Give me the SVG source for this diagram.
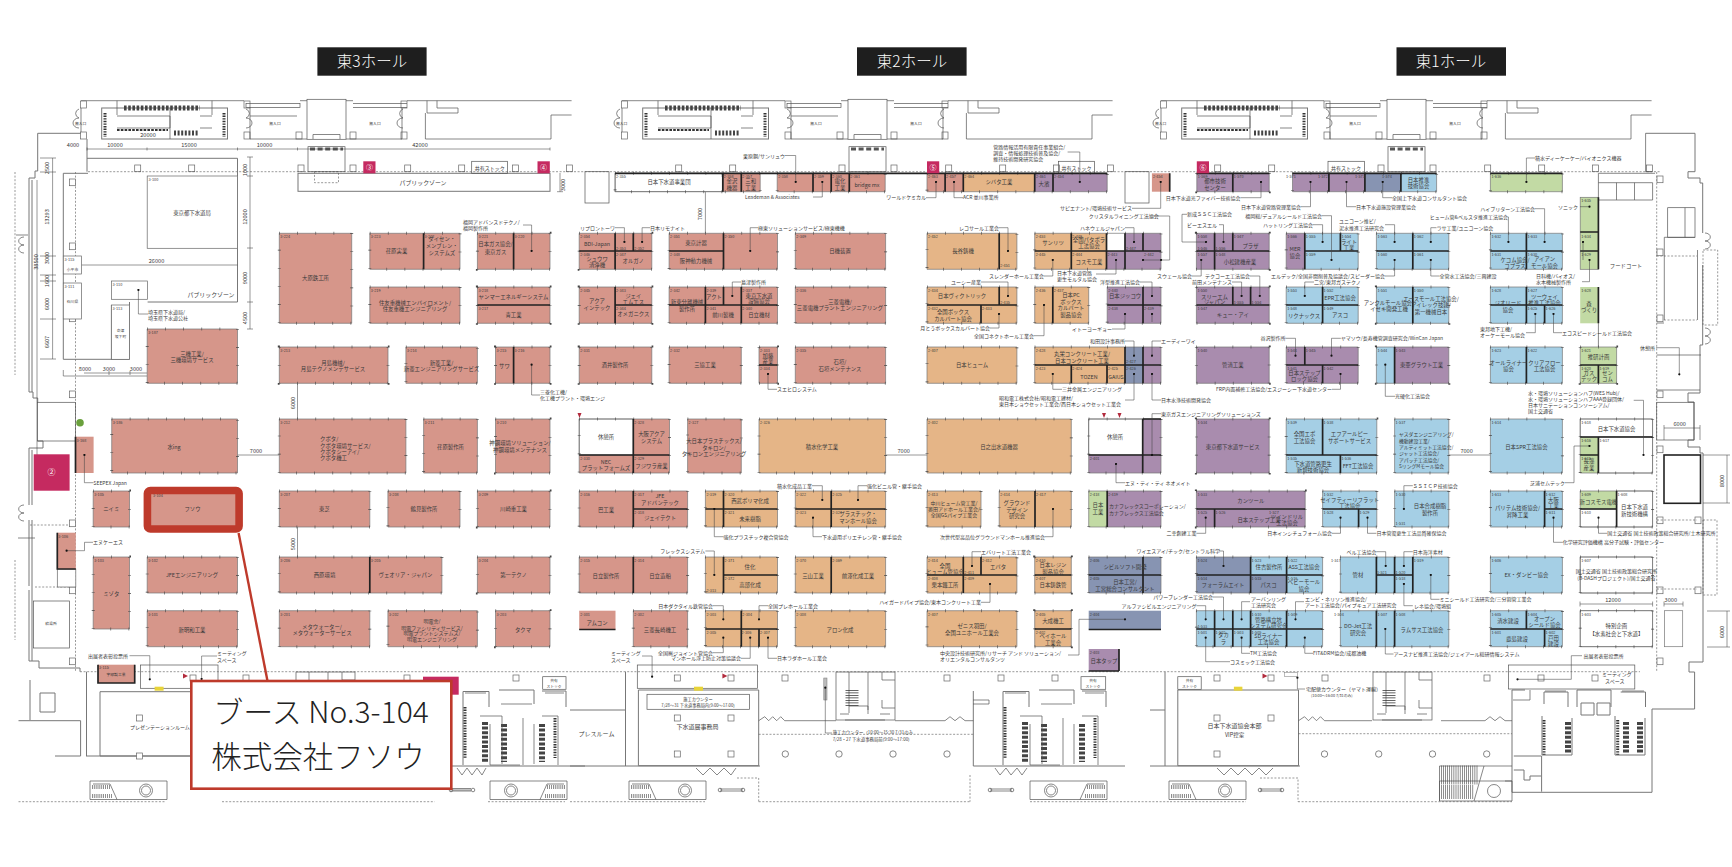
<svg xmlns="http://www.w3.org/2000/svg" width="1732" height="867" viewBox="0 0 1732 867">
<style>
text{font-family:"Noto Sans CJK JP","Liberation Sans",sans-serif;fill:#3a3a3a}
.r{fill:#D6968A}.o{fill:#E5B587}.p{fill:#A98CAE}.b{fill:#A5CFE5}.s{fill:#8794B2}.g{fill:#C2DAA4}.w{fill:#fff}
.l{font-size:5.4px;text-anchor:middle}
.n{font-size:3.8px}
.c{font-size:5px}
.e{text-anchor:end}
.m{text-anchor:middle}
.d{font-size:5.6px;text-anchor:middle;fill:#444}
.st{fill:none;stroke:#555;stroke-width:.7}
.wl{fill:none;stroke:#777;stroke-width:1}
.dh{fill:none;stroke:#555;stroke-width:.6;stroke-dasharray:2 1.6}
.th{fill:none;stroke:#222;stroke-width:1.7}
.bd{fill:none;stroke:#777;stroke-width:.7}
.tk{fill:none;stroke:#444;stroke-width:3;stroke-dasharray:.6 17.5}
.ld{fill:none;stroke:#444;stroke-width:.55;marker-start:url(#dot)}
.ln{fill:none;stroke:#444;stroke-width:.55}
.pl{fill:#fff;stroke:#666;stroke-width:.7}
.mg{fill:#C52A60}
.ttl{fill:#1E1E1E}
.tt{font-size:15.5px;fill:#fff;text-anchor:middle;font-weight:300}
</style>
<defs>
<marker id="dot" markerUnits="userSpaceOnUse" markerWidth="3" markerHeight="3" refX="1.5" refY="1.5"><circle cx="1.5" cy="1.5" r="1.1" fill="#111"/></marker>
<g id="tm">
<path class="st" d="M81 100.7H244M300 100.7H307M346 100.7H353M407 100.7H571.6M81 108V133"/>
<rect class="pl" x="80.5" y="101" width="6" height="7"/><rect class="pl" x="80.5" y="132" width="6" height="7"/>
<rect class="pl" x="244" y="101" width="6" height="7"/><rect class="pl" x="244" y="132" width="6" height="7"/><rect class="pl" x="296" y="132" width="6" height="7"/><rect class="pl" x="350" y="132" width="6" height="7"/><rect class="pl" x="401" y="101" width="6" height="7"/><rect class="pl" x="401" y="132" width="6" height="7"/>
<path class="st" d="M79 109a6 5 0 0 0 0 9a6 5 0 0 0 0 10M246 109a6 5 0 0 1 0 9a6 5 0 0 1 0 10M403 109a6 5 0 0 0 0 9a6 5 0 0 0 0 10"/>
<rect class="wl" x="101.7" y="108" width="125.8" height="31"/>
<path class="st" d="M117 100.7V115M212 100.7V115M117 116H170V128M117 128H170M170 108V139M212 116H200M212 128H200"/>
<path d="M105 113V137M224 113V137" fill="none" stroke="#333" stroke-width="3" stroke-dasharray="1.4 1.2"/>
<path d="M124 108H200" fill="none" stroke="#444" stroke-width="5" stroke-dasharray="2.6 1.6"/>
<path d="M117 130H168" fill="none" stroke="#333" stroke-width="2" stroke-dasharray="2.6 1.2"/>
<path d="M174 133H198" fill="none" stroke="#444" stroke-width="5" stroke-dasharray="2 1.6"/>
<rect class="st" x="246" y="103.5" width="54" height="4"/>
<path class="st" d="M250 107.5V139H307M250 116H297"/>
<rect class="st" x="307" y="99.3" width="39" height="40"/>
<path class="st" d="M313 139V134.500H340V139M346 139H402V108M353 107.500H407M353 103.500H407"/>
<path class="st" d="M425.400 113V139H551V115H571.600M427 100.700V113H458V108M437 100.700V108H458"/>
<rect class="st" x="308" y="146.700" width="37" height="25"/>
<path d="M310 149H343" fill="none" stroke="#555" stroke-width="3" stroke-dasharray="5 2.600"/>
<text class="n m" x="275" y="125">搬入口</text><text class="n m" x="375" y="125">搬入口</text>
<text class="n" x="75" y="125">搬入口</text>
<rect class="pl" x="134.700" y="165" width="6" height="6.700"/><rect class="pl" x="188.700" y="165" width="6" height="6.700"/><rect class="pl" x="298" y="165" width="6" height="6.700"/><rect class="pl" x="350" y="165" width="6" height="6.700"/><rect class="pl" x="404.700" y="165" width="6" height="6.700"/><rect class="pl" x="458.700" y="165" width="6" height="6.700"/><rect class="pl" x="512.400" y="165" width="6" height="6.700"/><rect class="pl" x="566.400" y="165" width="6" height="6.700"/>
</g>
<g id="wc">
<path class="wl" d="M973.300 691V766H1125M1003 691.500H1029V707M1003 691.500V765M1039 690H1074V704M1082 691H1106V707"/>
<path d="M1005 707V758M1095 718V758" fill="none" stroke="#333" stroke-width="3" stroke-dasharray="1.400 1.200"/>
<path d="M1025 722V762M1044 724V762M1082 724V762" fill="none" stroke="#444" stroke-width="6" stroke-dasharray="3 1.600"/>
<path class="st" d="M1020 716H1042V764M1030 724V765H1060M1063 718V765M1074 724V764M1082 716H1098V765M1005 693H1026M1085 693H1104"/>
<path class="st" d="M973 700H989V704H973M1041 704H1072"/>
</g>
<g id="stm">
<rect class="st" x="836" y="672" width="59" height="48"/>
<path class="st" d="M849 672V713M868 672V710M849 706H868V714M882 672V680H895M882 700V708H895M840 714H849M880 714H890M845 720H885"/>
<path d="M852 690V706" fill="none" stroke="#333" stroke-width="13" stroke-dasharray=".7 1.800"/>
</g>
<g id="esc">
<path class="st" d="M0 0H77V18.500H0ZM3 3H20L27 18.500"/>
<path d="M2 6H20M2 15H22" fill="none" stroke="#444" stroke-width="4" stroke-dasharray=".6 1.300"/>
<circle class="st" cx="56" cy="9.500" r="6.500"/><circle class="st" cx="56" cy="9.500" r="4.500"/>
</g>
<path id="blk" d="M279.300 233.300h72.400v90h-72.400zM369.800 233.300h90.200v36h-90.200zM477.400 233.300h72.600v36h-72.600zM369.800 287h90.200v36.300h-90.200zM477.400 287h72.600v36.300h-72.600zM147.200 329h90.300v54.300h-90.300zM279.300 347h108.700v36.300h-108.700zM405.900 347h71.500v36.300h-71.500zM495.500 347h54.500v36.300h-54.500zM111.700 419h125.800v54h-125.800zM279.300 419h126.600v54h-126.600zM423.600 419h53.800v54h-53.800zM495.500 419h54.500v54h-54.500zM93.200 491h36.300v36h-36.300zM279.300 491h90.500v36h-90.500zM387.900 491h72.100v36h-72.100zM477.400 491h72.600v36h-72.600zM93.200 557h36.300v72h-36.300zM147.200 557h90.300v36h-90.300zM279.300 557h162.600v36h-162.600zM477.400 557h72.600v36h-72.600zM147.200 610.700h90.300v36h-90.300zM279.300 610.700h90.500v36h-90.500zM387.900 610.700h89.500v36h-89.500zM495.500 610.700h54.500v36h-54.500zM615.100 173.300h107.700v18.400h-107.700zM722.800 173.300h37.400v18.400h-37.400zM777.200 173.300h108v18.400h-108zM927 173.300h180.200v18.400h-180.200zM579.200 233.300h72.600v36h-72.600zM669.100 233.300h108.400v36h-108.400zM795.300 233.300h90.300v36h-90.300zM927 233.300h89.900v36h-89.900zM1034.700 233.300h126.300v36h-126.300zM579.200 287h72.600v36.300h-72.600zM669.100 287h108.400v36.300h-108.400zM795.300 287h90.300v36.300h-90.300zM927 287h89.900v36.300h-89.900zM1034.700 287h54v36.300h-54zM1107.200 287h53.800v36.300h-53.800zM579.200 347h72.600v36.300h-72.600zM669.100 347h72.200v36.300h-72.200zM759 347h18.500v36.300h-18.500zM795.300 347h90.300v36.300h-90.300zM927 347h89.900v36.300h-89.900zM1034.700 347h126.300v36.300h-126.300zM579.200 419h90.300v54h-90.300zM687.600 419h53.700v54h-53.700zM759 419h126.600v54h-126.600zM927 419h144.300v54h-144.300zM1088.700 419h72.300v54h-72.300zM579.200 491h108.400v36h-108.400zM705.400 491h72.100v36h-72.100zM795.300 491h90.300v36h-90.300zM927 491h54v36h-54zM999.200 491h72.100v36h-72.100zM1088.700 491h72.300v36h-72.300zM579.200 557h108.400v36h-108.400zM705.400 557h72.100v36h-72.100zM795.300 557h90.300v36h-90.300zM927 557h89.900v36h-89.900zM1034.700 557h36.600v36h-36.600zM1088.700 557h72.300v36h-72.300zM633.300 610.700h54.300v36h-54.300zM705.400 610.700h72.100v36h-72.100zM795.300 610.700h90.300v36h-90.300zM927 610.700h89.900v36h-89.900zM1034.700 610.700h36.600v36h-36.600zM1196.800 173.300h72.400v18.400h-72.400zM1292.500 173.300h144.100v18.400h-144.100zM1490.400 173.300h72v18.400h-72zM1196.400 233.300h72.800v36h-72.800zM1286.200 233.300h72v36h-72zM1376.400 233.300h72.400v36h-72.400zM1490.400 233.300h72v36h-72zM1196.400 287h72.800v36.300h-72.800zM1286.200 287h72v36.300h-72zM1376.400 287h72.400v36.300h-72.400zM1490.400 287h72v36.300h-72zM1196.400 347h72.800v36.300h-72.800zM1286.200 347h72v36.300h-72zM1376.400 347h72.400v36.300h-72.400zM1490.400 347h72v36.300h-72zM1580.200 347h36.400v36.300h-36.400zM1196.400 419h72.800v54h-72.800zM1286.200 419h90.600v54h-90.600zM1394.600 419h54.200v54h-54.200zM1490.400 419h72v54h-72zM1580.200 419h72.400v54h-72.400zM1196.400 491h108.800v36h-108.800zM1322.600 491h54.200v36h-54.200zM1394.600 491h54.200v36h-54.200zM1490.400 491h72v36h-72zM1580.200 491h72.400v36h-72.400zM1196.400 557h126.200v36h-126.200zM1340.400 557h108.400v36h-108.400zM1490.400 557h72v36h-72zM1580.200 557h72.400v36h-72.400zM1196.400 610.700h126.200v36h-126.200zM1340.400 610.700h108.400v36h-108.400zM1490.400 610.700h72v36h-72zM1580.200 610.700h72.400v36h-72.400z"/>
</defs>

<g id="titles">
<rect class="ttl" x="317.400" y="47.300" width="109.200" height="28.400"/><text class="tt" x="372" y="67">東3ホール</text>
<rect class="ttl" x="857" y="47.300" width="109.600" height="28.400"/><text class="tt" x="912" y="67">東2ホール</text>
<rect class="ttl" x="1396.500" y="47.300" width="109.500" height="28.400"/><text class="tt" x="1451" y="67">東1ホール</text>
</g>

<g id="structure">
<use href="#tm"/><use href="#tm" x="541"/><use href="#tm" x="1080"/>
<path class="dh" d="M88 171.700H1660M80 671.700H1640M75.500 172V671M1656.700 172V671"/>
<path class="wl" d="M81 133.300H37.700V171H35V178H29V392H33V398H37.700V402M37.700 441H43V448H29V505M29 520V586M29 590V661H39V668H80V671.700"/>
<path class="wl" d="M87 139V171.700M32 180V392M32 450V505M32 520V661"/>
<path class="st" d="M24 237a4 3 0 0 0 0 8a4 3 0 0 0 0 8M24 505a4 3 0 0 0 0 8a4 3 0 0 0 0 8M18 538H35M16 235H28"/>
<path class="dh" d="M15 172V375M15 560V640M30 525H75M35 587H75"/>
<rect class="st" x="37.400" y="402.300" width="38.100" height="38.700"/>
<path class="wl" d="M87 158.300H237.500V302H147.600M63.300 173.300V359.300H129.500V302M63.300 173.300H88M111.400 305V359.300"/>
<rect class="pl" x="69.500" y="179" width="6" height="6.700"/><rect class="pl" x="69.500" y="391" width="6" height="6.700"/><rect class="pl" x="69.500" y="520" width="6" height="6.700"/><rect class="pl" x="69.500" y="587" width="6" height="6.700"/><rect class="pl" x="69.500" y="243" width="6" height="6.700"/><rect class="pl" x="69.500" y="315" width="6" height="6.700"/><rect class="pl" x="69.500" y="658" width="6" height="6.700"/>
<rect class="wl" x="298" y="173.300" width="252" height="18"/>
<rect class="dh" x="314.500" y="171.700" width="24" height="11"/>
<rect class="st" x="33.500" y="601" width="36" height="47"/>
<text class="n m" x="51" y="625">給湯所</text>
<rect class="st" x="471.700" y="161.300" width="35.900" height="12"/><rect class="st" x="1058.400" y="161.300" width="36.200" height="12"/><rect class="st" x="1328" y="161.300" width="36.500" height="12"/>
<text class="c m" x="489.700" y="169.500">共有ストック</text><text class="c m" x="1076.500" y="169.500">共有ストック</text><text class="c m" x="1346" y="169.500">共有ストック</text>
<text class="l" style="font-size:5.900px" x="423" y="185">パブリックゾーン</text>
<text class="l" style="font-size:5.900px" x="211" y="297">パブリックゾーン</text>
<rect class="st" x="585" y="171.700" width="24" height="31.300"/>
<rect class="st" x="1125" y="171.700" width="24" height="31.300"/>
<!-- right side -->
<path class="wl" d="M1645.600 133.300H1695V171.700H1688V178H1700V183H1702.700V233M1702.700 265V333M1702.700 333V345H1700V393H1688V402H1694V440H1688V447H1700V453H1703V662H1689V672H1694.600V709H1652V792.300H1512V690H1525"/>
<path class="st" d="M1645.600 133.300V171.700H1652M1598.400 173.300H1655M1598.400 173.300V267M1598.400 323V369M1598.400 182.700H1652.600V200H1598.400M1616.500 182.700V200M1634.500 182.700V200"/>
<rect class="st" x="1667.700" y="207.700" width="27.300" height="29.600"/><path class="st" d="M1685 207.700V237.300M1664.300 237.300V320M1664.300 237.300H1695M1697.500 250V320M1656.700 323H1664M1656.700 355H1701M1656.700 390H1700"/>
<path class="dh" d="M1656.700 256H1697M1656.700 320H1697"/><rect class="dh" x="1703" y="250" width="14.700" height="75"/>
<path class="st" d="M1705 233a4 3 0 0 1 0 8a4 3 0 0 1 0 8M1705 328a4 3 0 0 1 0 8a4 3 0 0 1 0 8"/>
<rect class="st" x="1656.700" y="402.300" width="37.300" height="37.700"/>
<rect x="1664" y="455" width="36.500" height="48.300" fill="#fff" stroke="#222" stroke-width="1.600"/>
<rect class="pl" x="1657" y="176" width="6" height="6.700"/><rect class="pl" x="1657" y="249" width="6" height="6.700"/><rect class="pl" x="1657" y="315" width="6" height="6.700"/><rect class="pl" x="1657" y="391" width="6" height="6.700"/><rect class="pl" x="1657" y="446" width="6" height="6.700"/><rect class="pl" x="1657" y="517" width="6" height="6.700"/><rect class="pl" x="1657" y="587" width="6" height="6.700"/><rect class="pl" x="1657" y="658" width="6" height="6.700"/>
<rect class="pl" x="1695" y="517" width="6" height="6.700"/><rect class="pl" x="1695" y="587" width="6" height="6.700"/>
<path class="dh" d="M1657 520H1697M1657 589H1697"/><rect class="dh" x="1703" y="520" width="14" height="75"/>
<rect class="w" x="1664.500" y="610.700" width="18.200" height="36" stroke="#777" stroke-width=".7"/>
<text class="l" x="1626" y="268">フードコート</text>
<text class="c e" x="1655" y="350">休憩所</text>
<!-- bottom modules -->
<use href="#wc" x="-540"/><use href="#wc"/>
<use href="#stm"/><use href="#stm" x="537"/><use href="#stm" x="-540"/>
<!-- hall 1 toilets -->
<path d="M1544 720V755M1617.700 720V755" fill="none" stroke="#333" stroke-width="3" stroke-dasharray="1.400 1.200"/>
<path d="M1568 722V754M1626 722V754M1640 722V754" fill="none" stroke="#444" stroke-width="6" stroke-dasharray="3 1.600"/>
<path class="wl" d="M1544 692H1568V707M1544 692V704M1577 707V690H1611V707M1620.700 692H1645.500V707M1542 716V755H1572V718M1615 716V755H1645V718M1581 703H1594V715H1581ZM1597 703H1610V715H1597Z"/>
<path class="wl" d="M1513.800 756H1541.600V791.700M1513.800 770H1524V780H1530V776H1541"/>
<path class="st" d="M1545 691H1566M1622 691H1644M1530 690V700H1513"/>
<path class="wl" d="M30 680V720M40 693H55V712H40ZM18.500 720.700H80.600V756H55M86.500 671.700V756M86 756H190M100 691.700H195V756H100Z"/>
<path class="wl" d="M638.400 690H758.700V765.700H638.400ZM625.500 671.700V766M570 710H625M570 766H760"/>
<path class="wl" d="M1177.800 690H1298.500V765.700H1177.800ZM1165 671.700V766M1150 766H1300M1150 710H1165"/>
<rect class="st" x="140.600" y="665" width="77.400" height="23.300"/><rect class="st" x="637.300" y="665" width="120.300" height="23.300"/><rect class="st" x="1508.600" y="665" width="126.200" height="24"/>
<rect class="st" x="647" y="694.300" width="102.400" height="15"/>
<text class="n m" x="698" y="700.500" style="font-size:4.200px">施工カウンター</text><text class="n m" x="698" y="707" style="font-size:4.200px">7/28～31 下水道事務局内(9:00～17:00)</text>
<text class="l" style="font-size:6px" x="697.600" y="729">下水道展事務局</text>
<text class="l" style="font-size:6px" x="596.500" y="736">プレスルーム</text>
<text class="l" style="font-size:5px" x="160" y="729">プレゼンテーションルーム</text>
<text class="l" style="font-size:6px" x="1234.600" y="728">日本下水道協会本部</text><text class="l" style="font-size:5.500px" x="1234.600" y="736.500">VIP控室</text>
<rect class="pl" x="136.600" y="715" width="6" height="6"/><rect class="pl" x="136.600" y="753" width="6" height="6"/>
<rect class="pl" x="674.300" y="715" width="6" height="6"/><rect class="pl" x="728" y="715" width="6" height="6"/><rect class="pl" x="674.300" y="751" width="6" height="6"/><rect class="pl" x="728" y="751" width="6" height="6"/>
<rect class="pl" x="1214" y="715" width="6" height="6"/><rect class="pl" x="1268" y="715" width="6" height="6"/><rect class="pl" x="1214" y="751" width="6" height="6"/>
<g class="pl"><rect x="190" y="675" width="6" height="6"/><rect x="243" y="675" width="6" height="6"/><rect x="404" y="675" width="6" height="6"/><rect x="513" y="675" width="6" height="6"/><rect x="674.300" y="675" width="6" height="6"/><rect x="728" y="675" width="6" height="6"/><rect x="782" y="675" width="6" height="6"/><rect x="944" y="675" width="6" height="6"/><rect x="998" y="675" width="6" height="6"/><rect x="1052" y="675" width="6" height="6"/><rect x="1214" y="675" width="6" height="6"/><rect x="1268" y="675" width="6" height="6"/><rect x="1322" y="675" width="6" height="6"/><rect x="1484" y="675" width="6" height="6"/><rect x="1538" y="675" width="6" height="6"/><rect x="1592" y="675" width="6" height="6"/></g>
<g class="st"><circle cx="785.300" cy="754" r="3.200"/><circle cx="839" cy="754" r="3.200"/><circle cx="893" cy="754" r="3.200"/><circle cx="947" cy="754" r="3.200"/><circle cx="1324.500" cy="754" r="3.200"/><circle cx="1378.700" cy="754" r="3.200"/><circle cx="1432.500" cy="754" r="3.200"/><circle cx="1486.700" cy="754" r="3.200"/></g>
<path class="st" d="M758.700 720.700l6-4 4 4 4-4 4 4 4-4 4 4H836M895 720.700H945l5-4 5 4 5-4 5 4h8.300M1298.500 720.700l6-4 4 4 4-4 4 4 4-4 4 4H1372M1441 720.700H1485l5-4 5 4 5-4 5 4h7"/>
<path class="dh" d="M758.700 734.300H973.300M1298.500 733.700H1512M737 778H758.700V801.700M970 775V801.700M1260 778H1298V801.700M18.500 801.700H164.600M222 801.700H434.700M488 801.700H565M570 801.700H705M758.700 801.700H970M1030 801.700H1170M1170 801.700H1246M1298 801.700H1512"/>
<use href="#esc" x="90" y="781"/><use href="#esc" x="629" y="781"/><use href="#esc" x="1169" y="781"/>
<use href="#esc" transform="translate(567 781) scale(-1 1)"/><use href="#esc" transform="translate(1107 781) scale(-1 1)"/>
<path class="st" d="M1439.500 766H1512M1439.500 781H1512V801H1439.500ZM1439.500 766V801M1484 766L1474 801M1512 781H1505"/>
<path d="M1441 775H1478" fill="none" stroke="#444" stroke-width="19" stroke-dasharray=".6 1.500"/>
<path d="M1441 792H1474" fill="none" stroke="#444" stroke-width="14" stroke-dasharray=".6 1.500"/>
<circle class="st" cx="1494" cy="791" r="6.500"/>
<g class="st"><path d="M453 790h18M450 788.500h21M450 791h21M720 789h23M720 791h23M990 789h22M990 791h22M1260 789h22M1260 791h22"/><circle cx="451" cy="790" r="1.800"/><circle cx="473" cy="790" r="1.800"/><circle cx="720" cy="790" r="1.800"/><circle cx="743" cy="790" r="1.800"/><circle cx="990" cy="790" r="1.800"/><circle cx="1012" cy="790" r="1.800"/><circle cx="1260" cy="790" r="1.800"/><circle cx="1282" cy="790" r="1.800"/></g>
<path class="st" d="M457 768l5 7 5-7 5 7 5-7 5 7 4-7M696 768l7 7 7-7 7 7 7-7 7 7 5-7M995 768l5 7 6-7 5 7 6-7 5 7 5-7M1217 768l7 7 7-7 7 7 7-7 7 7 7-7 7 7 7-7"/>
<rect class="st" x="542.700" y="676.700" width="23.300" height="12.600"/><rect class="st" x="1081" y="676.700" width="24.700" height="12.600"/><rect class="st" x="1177.800" y="676.700" width="23.400" height="12.600"/>
<text class="n m" x="554" y="682">共有</text><text class="n m" x="554" y="687.500">ストック</text><text class="n m" x="1093" y="682">共有</text><text class="n m" x="1093" y="687.500">ストック</text><text class="n m" x="1189.500" y="682">共有</text><text class="n m" x="1189.500" y="687.500">ストック</text>
<g fill="#E8D43A"><rect x="154.600" y="686.700" width="9" height="4"/><rect x="694" y="686.700" width="9" height="4"/><rect x="1233.900" y="686.700" width="8.500" height="4"/></g>
<g fill="#B22A3C"><path d="M183 673.500L188 676L183 678.500ZM722.400 673.500L727.400 676L722.400 678.500ZM1262.500 673.500L1267.500 676L1262.500 678.500Z"/><path d="M577.500 413H581.500L579.500 418ZM1117.500 413H1121.500L1119.500 418ZM1102 413H1106L1104 418ZM609.600 426H613.600L611.600 421Z"/></g>
<rect x="823.800" y="678" width="3.200" height="22" fill="#bbb" stroke="#777" stroke-width=".5"/>
<rect x="1284.500" y="672.500" width="13" height="4" fill="#fff" stroke="#777" stroke-width=".5"/>
<text class="c" x="832.700" y="734.300" style="font-size:4.400px">施工カウンター（10:00～15:30 7/31のみ</text><text class="c" x="832.700" y="740.500" style="font-size:4.400px">7/28・27 下水道事務局前(9:00～17:00)</text>
<text class="c" x="1306" y="691">宅配便カウンター（ヤマト運輸）</text><text class="n" x="1311" y="696.500">(10:00～16:00 7/31のみ)</text>
</g>

<g id="dimensions">
<path class="ln" d="M87 149H550M87 147.500v3M147 147.500v3M237.500 147.500v3M297.500 147.500v3M550 147.500v3M250 157V329M247 157h6M247 176h6M247 248h6M247 302h6M247 329h6M52.600 158V359M40 158H56M40 172H56M40 256H56M40 275H56M40 281H56M40 319H56M40 359H56M37 180V470M63.300 370V376H147M84 373H147M109 371v4M130 371v4M81.400 265H237.500M237.500 455H279.300M297.500 383.300V419M297.500 527V557M705.400 191.700V233.300M885.600 455H927M1449 455H1490.400M1664 428H1700M1664 425V440M1700 425V440M1580 604H1652.600M1580 601.500v5M1652.600 601.500v5M1664 604H1683M1664 601.500v5M1683 601.500v5M1703 455H1730M1703 503H1730M1727 455V503M1707 611H1730M1707 647H1730M1727 611V647M560 173V191.700M557 191.700h6"/>
<g class="d">
<text x="73" y="147">4000</text><text x="115" y="147">10000</text><text x="189" y="147">15000</text><text x="264.500" y="147">10000</text><text x="420" y="147">42000</text><text x="148" y="137">20000</text><text x="156.500" y="263">26000</text><text x="85" y="371">8000</text><text x="109" y="371">3000</text><text x="136" y="371">3000</text><text x="256" y="453">7000</text><text x="903.700" y="453">7000</text><text x="1466.600" y="453">7000</text><text x="1679.700" y="426">6000</text><text x="1613" y="601.500">12000</text><text x="1670.800" y="601.500">3000</text>
<text transform="translate(49 168) rotate(-90)">2500</text><text transform="translate(49 217) rotate(-90)">13293</text><text transform="translate(49 258) rotate(-90)">3000</text><text transform="translate(49 281) rotate(-90)">1600</text><text transform="translate(49 304) rotate(-90)">6000</text><text transform="translate(49 342) rotate(-90)">6607</text><text transform="translate(38 262) rotate(-90)">38500</text>
<text transform="translate(247 170) rotate(-90)">1000</text><text transform="translate(247 217) rotate(-90)">12000</text><text transform="translate(247 278) rotate(-90)">9000</text><text transform="translate(247 318) rotate(-90)">4500</text><text transform="translate(295 403) rotate(-90)">6000</text><text transform="translate(295 544) rotate(-90)">5000</text><text transform="translate(565 185) rotate(-90)">3000</text><text transform="translate(702 214) rotate(-90)">7000</text><text transform="translate(1724 481) rotate(-90)">8000</text><text transform="translate(1724 632) rotate(-90)">6000</text>
</g>
</g>

<g id="booths">
<rect class="w" x="147.200" y="176" width="90.300" height="72.300" stroke="#666" stroke-width=".7"/>
<rect class="w" x="111.400" y="281" width="36.200" height="18.300" stroke="#666" stroke-width=".7"/>
<rect class="w" x="111.400" y="305" width="18.100" height="54.300" stroke="#666" stroke-width=".7"/>
<rect class="w" x="63.300" y="256" width="18.100" height="18" stroke="#666" stroke-width=".7"/>
<rect class="w" x="63.300" y="283" width="18.100" height="36" stroke="#666" stroke-width=".7"/>
<rect class="w" x="57.300" y="569" width="18.500" height="18" stroke="#666" stroke-width=".7"/>
<g class="r">
<rect x="279.300" y="233.300" width="72.400" height="90"/><rect x="369.800" y="233.300" width="90.200" height="36"/><rect x="477.400" y="233.300" width="72.600" height="36"/><rect x="369.800" y="287" width="90.200" height="36.300"/><rect x="477.400" y="287" width="72.600" height="36.300"/><rect x="147.200" y="329" width="90.300" height="54.300"/><rect x="279.300" y="347" width="108.700" height="36.300"/><rect x="405.900" y="347" width="71.500" height="36.300"/><rect x="495.500" y="347" width="54.500" height="36.300"/><rect x="111.700" y="419" width="125.800" height="54"/><rect x="279.300" y="419" width="126.600" height="54"/><rect x="423.600" y="419" width="53.800" height="54"/><rect x="495.500" y="419" width="54.500" height="54"/><rect x="75.500" y="436.700" width="18.100" height="36.300"/><rect x="93.200" y="491" width="36.300" height="36"/><rect x="147.200" y="491" width="90.300" height="36"/><rect x="279.300" y="491" width="90.500" height="36"/><rect x="387.900" y="491" width="72.100" height="36"/><rect x="477.400" y="491" width="72.600" height="36"/><rect x="57.300" y="532.700" width="18.500" height="36.300"/><rect x="93.200" y="557" width="36.300" height="72"/><rect x="147.200" y="557" width="90.300" height="36"/><rect x="279.300" y="557" width="162.600" height="36"/><rect x="477.400" y="557" width="72.600" height="36"/><rect x="147.200" y="610.700" width="90.300" height="36"/><rect x="279.300" y="610.700" width="90.500" height="36"/><rect x="387.900" y="610.700" width="89.500" height="36"/><rect x="495.500" y="610.700" width="54.500" height="36"/><rect x="98" y="664.700" width="36.700" height="18.300"/>
<rect x="722.800" y="173.300" width="37.400" height="18.400"/><rect x="777.200" y="173.300" width="108" height="18.400"/><rect x="927" y="173.300" width="36.300" height="18.400"/><rect x="1151.900" y="173.300" width="17.800" height="18.400"/>
<rect x="579.200" y="233.300" width="72.600" height="36"/><rect x="669.100" y="233.300" width="108.400" height="36"/><rect x="795.300" y="233.300" width="90.300" height="36"/><rect x="579.200" y="287" width="72.600" height="36.300"/><rect x="669.100" y="287" width="108.400" height="36.300"/><rect x="795.300" y="287" width="90.300" height="36.300"/><rect x="579.200" y="347" width="72.600" height="36.300"/><rect x="669.100" y="347" width="72.200" height="36.300"/><rect x="759" y="347" width="18.500" height="36.300"/><rect x="795.300" y="347" width="90.300" height="36.300"/><rect x="579.200" y="455" width="54.100" height="18"/><rect x="633.300" y="419" width="36.200" height="54"/><rect x="687.600" y="419" width="53.700" height="54"/><rect x="579.200" y="491" width="108.400" height="36"/><rect x="579.200" y="557" width="108.400" height="36"/><rect x="579.200" y="610.700" width="36.300" height="18.800"/><rect x="633.300" y="610.700" width="54.300" height="36"/>
</g>
<g class="w" stroke="#666" stroke-width=".7"><rect x="615.100" y="173.300" width="107.700" height="18.400"/><rect x="579.200" y="419" width="54.100" height="36"/><rect x="1088.700" y="419" width="54" height="36"/></g>
<g class="o">
<rect x="759" y="419" width="126.600" height="54"/><rect x="963.300" y="173.300" width="71.400" height="18.400"/><rect x="927" y="233.300" width="89.900" height="36"/><rect x="1034.700" y="233.300" width="71.800" height="36"/><rect x="927" y="287" width="89.900" height="36.300"/><rect x="1034.700" y="287" width="54" height="36.300"/><rect x="927" y="347" width="89.900" height="36.300"/><rect x="1034.700" y="347" width="90.300" height="36.300"/><rect x="927" y="419" width="144.300" height="54"/><rect x="705.400" y="491" width="72.100" height="36"/><rect x="795.300" y="491" width="90.300" height="36"/><rect x="927" y="491" width="54" height="36"/><rect x="999.200" y="491" width="72.100" height="36"/><rect x="705.400" y="557" width="72.100" height="36"/><rect x="795.300" y="557" width="90.300" height="36"/><rect x="927" y="557" width="89.900" height="36"/><rect x="1034.700" y="557" width="36.600" height="36"/><rect x="705.400" y="610.700" width="72.100" height="36"/><rect x="795.300" y="610.700" width="90.300" height="36"/><rect x="927" y="610.700" width="89.900" height="36"/><rect x="1034.700" y="610.700" width="36.600" height="36"/>
</g>
<g class="p">
<rect x="1035" y="173.300" width="72.200" height="18.400"/><rect x="1106.500" y="251" width="54.500" height="18.300"/><rect x="1125" y="233.300" width="36" height="18"/><rect x="1107.200" y="287" width="53.800" height="36.300"/><rect x="1143" y="347" width="18" height="36.300"/><rect x="1088.700" y="455" width="54" height="18"/><rect x="1142.700" y="419" width="18.300" height="54"/><rect x="1107.200" y="491" width="53.800" height="36"/><rect x="1088.700" y="649" width="30.300" height="22"/>
<rect x="1196.800" y="173.300" width="72.400" height="18.400"/><rect x="1292.500" y="173.300" width="72.400" height="18.400"/><rect x="1196.400" y="233.300" width="72.800" height="36"/><rect x="1286.200" y="233.300" width="18.600" height="36"/><rect x="1196.400" y="287" width="72.800" height="36.300"/><rect x="1196.400" y="347" width="72.800" height="36.300"/><rect x="1286.200" y="347" width="72" height="36.300"/><rect x="1394.600" y="347" width="54.200" height="36.300"/><rect x="1196.400" y="419" width="72.800" height="54"/><rect x="1196.400" y="491" width="108.800" height="36"/>
</g>
<g class="s"><rect x="1125" y="347" width="18" height="36.300"/><rect x="1088.700" y="557" width="72.300" height="36"/><rect x="1088.700" y="610.700" width="72.300" height="18.800"/><rect x="1364.900" y="173.300" width="36" height="18.400"/><rect x="1196.400" y="557" width="54.200" height="36"/><rect x="1250.600" y="575" width="36" height="18"/></g>
<g class="b">
<rect x="1400.900" y="173.300" width="35.700" height="18.400"/><rect x="1304.800" y="233.300" width="53.400" height="36"/><rect x="1376.400" y="233.300" width="72.400" height="36"/><rect x="1490.400" y="233.300" width="72" height="36"/><rect x="1286.200" y="287" width="72" height="36.300"/><rect x="1376.400" y="287" width="72.400" height="36.300"/><rect x="1490.400" y="287" width="72" height="36.300"/><rect x="1376.400" y="347" width="18.200" height="36.300"/><rect x="1490.400" y="347" width="72" height="36.300"/><rect x="1286.200" y="419" width="90.600" height="54"/><rect x="1394.600" y="419" width="54.200" height="54"/><rect x="1490.400" y="419" width="72" height="54"/><rect x="1322.600" y="491" width="54.200" height="36"/><rect x="1394.600" y="491" width="54.200" height="36"/><rect x="1490.400" y="491" width="72" height="36"/><rect x="1250.600" y="557" width="72" height="18"/><rect x="1286.600" y="575" width="36" height="18"/><rect x="1340.400" y="557" width="108.400" height="36"/><rect x="1490.400" y="557" width="72" height="36"/><rect x="1196.400" y="610.700" width="126.200" height="36"/><rect x="1340.400" y="610.700" width="108.400" height="36"/><rect x="1490.400" y="610.700" width="72" height="36"/>
</g>
<g class="g">
<rect x="1088.700" y="491" width="18.500" height="36"/><rect x="1490.400" y="173.300" width="72" height="18.400"/><rect x="1580.200" y="197.300" width="18.200" height="72"/><rect x="1580.200" y="287" width="18.200" height="36.300"/><rect x="1580.200" y="347" width="36.400" height="36.300"/><rect x="1580.200" y="437" width="18.200" height="36"/><rect x="1580.200" y="491" width="36.400" height="18"/>
</g>
<g class="w" stroke="#777" stroke-width=".7"><rect x="1580.200" y="419" width="72.400" height="18"/><rect x="1598.400" y="437" width="54.200" height="36"/><rect x="1580.200" y="509" width="36.400" height="18"/><rect x="1616.600" y="491" width="36" height="36"/><rect x="1580.200" y="557" width="72.400" height="36"/><rect x="1580.200" y="610.700" width="72.400" height="36"/></g>
<rect x="1580.200" y="197.300" width="18.200" height="72" class="bd"/>
<use href="#blk" class="bd"/><use href="#blk" class="tk"/>
<path class="th" d="M423.600 233.300V269.300M513.600 233.300V269.300M477.400 305H550M513.600 347V383.300M75.500 436.700V473M57.300 532.700V569H75.800M369.800 557V593M98 664.700V683H134.700V664.700"/>
<path class="th" d="M615.100 173.300H1107.200M1196.800 173.300H1269.200M1292.500 173.300H1436.600M1490.400 173.300H1562.400M722.800 173.300V191.700M741.300 173.300V191.700M813 173.300V191.700M831.200 173.300V191.700M849.300 173.300V191.700M945.100 173.300V191.700M963.300 173.300V191.700M1034.700 173.300V191.700M1053 173.300V191.700M1169.700 173.300V191.700M1232.800 173.300V191.700M1328.900 173.300V191.700M1364.900 173.300V191.700M1400.900 173.300V191.700"/>
<path class="th" d="M615.100 233.300V269.300M633.300 233.300V251M579.200 251H651.800M669.100 251H723.500M723.500 233.300V269.300M999.200 233.300V269.300M1071.300 233.300V269.300M1034.700 251H1161M1106.500 233.300V269.300M1125 233.300V269.300M1143 233.300V251"/>
<path class="th" d="M615.100 287V323.300M615.100 305H651.800M705.400 287V323.300M741.300 287V323.300M669.100 305H777.500M723.500 287V305M999.200 287V305M927 305H1016.900M981 305V323.300M1052.800 287V323.300M1107.200 305H1161M1143 287V323.300"/>
<path class="th" d="M759 365H777.500M1125 347V383.300M1143 347V383.300M1034.700 365H1161M1071.300 365V383.300M1107 365V383.300"/>
<path class="th" d="M633.300 419V473M579.200 455H669.500M1088.700 455H1161M1142.700 419V473M1142.700 419H1161"/>
<path class="th" d="M633.300 491V527M633.300 509H687.600M723.500 491V527M705.400 509H777.500M831.200 491V527M795.300 509H885.600M1035 491V527M1107.200 491V527"/>
<path class="th" d="M633.300 557V593M723.500 557V593M723.500 575H777.500M831.200 557V593M963.300 557V593M981 557V575M927 575H1016.900M1034.700 575H1071.300M1088.700 575H1161M1143 557V593"/>
<path class="th" d="M741.300 610.700V646.700M705.400 629H777.500M759 629V646.700M1034.700 629H1071.300M579.200 629.500H615.500M1088.700 629.500H1161M1119 649V671M1088.700 671H1119"/>
<path class="th" d="M1214.600 233.300V269.300M1232.800 233.300V251M1196.400 251H1269.200M1304.800 233.300V269.300M1304.800 251H1358.200M1340.400 233.300V251M1412.800 233.300V269.300M1376.400 251H1448.800M1526.400 233.300V269.300M1490.400 251H1562.400M1580.200 232H1598.400M1580.200 251H1598.400M1598.400 197.300V269.300"/>
<path class="th" d="M1232.800 287V305M1250.600 287V305M1196.400 305H1269.200M1322.600 287V323.300M1286.200 305H1358.200M1412.800 287V323.300M1526.400 287V323.300M1490.400 305H1562.400M1544.600 305V323.300M1598.400 287V323.300"/>
<path class="th" d="M1304.800 347V365M1286.200 365H1358.200M1322.600 365V383.300M1394.600 347V383.300M1526.400 347V383.300M1580.200 365H1616.600M1598.400 365V383.300"/>
<path class="th" d="M1322.600 419V455M1286.200 455H1376.800M1340.400 455V473M1580.200 437H1652.600M1598.400 437V473M1580.200 455H1598.400"/>
<path class="th" d="M1196.400 509H1305.200M1214.600 509V527M1322.600 509H1376.800M1358.600 509V527M1544.600 491V527M1544.600 509H1562.400M1580.200 509H1616.600M1616.600 491V527"/>
<path class="th" d="M1250.600 557V593M1196.400 575H1322.600M1286.600 557V593M1376.400 557V593M1394.600 557V593M1412.800 557V593M1376.400 575H1412.800"/>
<path class="th" d="M1214.600 610.700V646.700M1232.800 610.700V646.700M1250.600 610.700V646.700M1286.600 610.700V646.700M1196.400 629H1322.600M1376.400 610.700V646.700M1394.600 610.700V646.700M1526.400 610.700V629M1490.400 629H1562.400M1544.600 629V646.700"/>
<rect class="mg" x="33.700" y="454.300" width="35.900" height="36.400"/><rect class="mg" x="363.300" y="161.300" width="12.200" height="12"/><rect class="mg" x="537.500" y="161.300" width="12.300" height="12"/><rect class="mg" x="927" y="161.300" width="12.200" height="12"/><rect class="mg" x="1196.800" y="161.300" width="12.200" height="12"/><rect class="mg" x="423" y="676.700" width="35.700" height="18"/>
<circle cx="80" cy="422.700" r="3.800" fill="#6AA03C"/>
<g><text style="fill:#fff;font-size:8px" x="51.600" y="475" text-anchor="middle">②</text><text style="fill:#fff;font-size:7px" x="369.400" y="170" text-anchor="middle">③</text><text style="fill:#fff;font-size:7px" x="543.600" y="170" text-anchor="middle">④</text><text style="fill:#fff;font-size:7px" x="933" y="170" text-anchor="middle">⑤</text><text style="fill:#fff;font-size:7px" x="1202.900" y="170" text-anchor="middle">⑥</text></g>
</g>

<g id="booth-labels">
<text class="l" x="192" y="215">東京都下水道局</text><text class="n" x="148.500" y="181">3-100</text>
<text class="n" x="112.500" y="286">3-110</text><text class="n" x="112.500" y="310">3-113</text><text class="n m" x="120.500" y="332">会津</text><text class="n m" x="120.500" y="338">坂下町</text>
<text class="n" x="64.500" y="261">3-115</text><text class="n m" x="72.500" y="271">小平市</text><text class="n" x="64.500" y="288">3-111</text><text class="n m" x="72.500" y="303">石川県</text>
<text class="l" x="315.500" y="280">大原鉄工所</text><text class="l" x="396.500" y="253">荏原実業</text><text class="l" x="441.800" y="241">ダイセン・</text><text class="l" x="441.800" y="248">メンブレン・</text><text class="l" x="441.800" y="255">システムズ</text><text class="l" x="495.500" y="246">日本ガス協会/</text><text class="l" x="495.500" y="254">東京ガス</text>
<text class="l" x="415" y="305">住友重機械エンバイロメント/</text><text class="l" x="415" y="311">住友重機エンジニアリング</text><text class="l" x="513.500" y="299">ヤンマーエネルギーシステム</text><text class="l" x="513.500" y="317">青工業</text>
<text class="l" x="192" y="356">三機工業/</text><text class="l" x="192" y="362">三機環境サービス</text><text class="l" x="333" y="365">月島機械/</text><text class="l" x="333" y="371">月島テクノメンテサービス</text><text class="l" x="441.500" y="365">新菱工業/</text><text class="l" x="441.500" y="371">新菱エンジニアリングサービス</text><text class="l" x="504.500" y="368">サワ</text>
<text class="l" x="174" y="449">水ing</text><text class="l" x="320" y="441" style="text-anchor:start">クボタ/</text><text class="l" x="320" y="447.500" style="text-anchor:start">クボタ環境サービス/</text><text class="l" x="320" y="453.500" style="text-anchor:start">クボタシーアイ/</text><text class="l" x="320" y="459.500" style="text-anchor:start">クボタ機工</text><text class="l" x="450.500" y="449">荏原製作所</text><text class="l" x="520" y="445">神鋼環境ソリューション/</text><text class="l" x="520" y="451.500">神鋼環境メンテナンス</text>
<text class="l" x="111.300" y="511">ニイミ</text><text class="l" x="192.500" y="511">フソウ</text><text class="l" x="324.500" y="511">東芝</text><text class="l" x="424" y="511">鶴見製作所</text><text class="l" x="513.500" y="511">川崎重工業</text>
<text class="l" x="111.300" y="596">ミゾタ</text><text class="l" x="192" y="577">JFEエンジニアリング</text><text class="l" x="324.500" y="577">西原環境</text><text class="l" x="405.500" y="577">ヴェオリア・ジャパン</text><text class="l" x="513.500" y="577">第一テクノ</text>
<text class="l" x="192" y="632">新明和工業</text><text class="l" x="322" y="629">メタウォーター/</text><text class="l" x="322" y="635">メタウォーターサービス</text><text class="l" x="432" y="623" style="font-size:5px">明電舎/</text><text class="l" x="432" y="629.500" style="font-size:5px">明電ファシリティサービス/</text><text class="l" x="432" y="635" style="font-size:5px">明電プラントシステムズ/</text><text class="l" x="432" y="640.500" style="font-size:5px">明電エンジニアリング</text><text class="l" x="523" y="632">タクマ</text><text class="n m" x="116" y="676">宇部製工業</text>
<g class="n">
<text x="280.300" y="238">3-224</text><text x="370.800" y="238">3-223</text><text x="424.600" y="238">3-222</text><text x="478.400" y="238">3-221</text><text x="514.600" y="238">3-220</text><text x="370.800" y="291.500">3-219</text><text x="478.400" y="291.500">3-218</text><text x="478.400" y="309.500">3-217</text><text x="148.200" y="334">3-187</text><text x="280.300" y="352">3-213</text><text x="406.900" y="352">3-214</text><text x="496.500" y="352">3-215</text><text x="514.600" y="352">3-216</text><text x="112.700" y="424">3-186</text><text x="280.300" y="424">3-212</text><text x="424.600" y="424">3-211</text><text x="496.500" y="424">3-210</text><text x="76.500" y="441.500">3-168</text><text x="94.200" y="496">3-105</text><text x="153" y="497">3-104</text><text x="280.300" y="496">3-207</text><text x="388.900" y="496">3-208</text><text x="478.400" y="496">3-209</text><text x="58.300" y="537.500">3-106</text><text x="94.200" y="562">3-103</text><text x="148.200" y="562">3-102</text><text x="280.300" y="562">3-206</text><text x="370.800" y="562">3-205</text><text x="478.400" y="562">3-204</text><text x="148.200" y="615.500">3-101</text><text x="280.300" y="615.500">3-201</text><text x="388.900" y="615.500">3-202</text><text x="496.500" y="615.500">3-203</text><text x="99" y="669">3-115</text>
</g>
<text class="l" x="669" y="184">日本下水道事業団</text><text class="l" x="732" y="183">金沢</text><text class="l" x="732" y="189.500">機器</text><text class="l" x="750.700" y="183">三和</text><text class="l" x="750.700" y="189.500">工業</text><text class="l" x="840" y="183">電化</text><text class="l" x="840" y="189.500">工業</text><text class="l" x="867" y="186.500">bridge mx</text><text class="l" x="999" y="184">シバタ工業</text><text class="l" x="1044" y="185.500">大濱</text>
<g class="n"><text x="616" y="177.500">2-355</text><text x="723.800" y="177.500">2-358</text><text x="742.300" y="177.500">2-357</text><text x="778.200" y="177.500">2-358</text><text x="814" y="177.500">2-359</text><text x="832.200" y="177.500">2-360</text><text x="850.300" y="177.500">2-361</text><text x="928" y="177.500">2-463</text><text x="946.100" y="177.500">2-457</text><text x="964.300" y="177.500">2-464</text><text x="1036" y="177.500">2-461</text><text x="1054" y="177.500">2-454</text><text x="1152.900" y="177.500">2-454</text></g>
<text class="l" x="597" y="245.500">BDI-Japan</text><text class="l" x="597" y="260.500">シュウワ</text><text class="l" x="597" y="267">清浄機</text><text class="l" x="633.300" y="263">オルガノ</text><text class="l" x="696" y="245">東京計器</text><text class="l" x="696" y="263">阪神動力機械</text><text class="l" x="840" y="253">日機装置</text><text class="l" x="963" y="253">長谷鋳機</text><text class="l" x="1053" y="245">サンリツ</text><text class="l" x="1089" y="242">全国パタポラ</text><text class="l" x="1089" y="248">工法協会</text><text class="l" x="1089" y="264">コスモ工業</text>
<text class="l" x="597" y="303">アクア</text><text class="l" x="597" y="310">インテック</text><text class="l" x="633.300" y="298">ジェイ</text><text class="l" x="633.300" y="304">エムエス</text><text class="l" x="633.300" y="316">オメガニクス</text><text class="l" x="687" y="304">新東分離機械</text><text class="l" x="687" y="311">製作所</text><text class="l" x="714" y="299">アクト</text><text class="l" x="759" y="298">東京下水道</text><text class="l" x="759" y="303">設備協会</text><text class="l" x="723" y="317">前川製機</text><text class="l" x="759" y="317">日立機材</text><text class="l" x="840" y="304">三菱電機/</text><text class="l" x="840" y="310">三菱電機プラントエンジニアリング</text><text class="l" x="962" y="298">日本ヴィクトリック</text><text class="l" x="953" y="314">全国ボックス</text><text class="l" x="953" y="320.500">カルバート協会</text><text class="l" x="1071" y="297">日本PC</text><text class="l" x="1071" y="303.500">ボックス</text><text class="l" x="1071" y="310">カルバート</text><text class="l" x="1071" y="316.500">製品協会</text><text class="l" x="1125" y="298">日本ジッコウ</text>
<text class="l" x="615" y="367">酒井製作所</text><text class="l" x="705" y="367">三協工業</text><text class="l" x="768" y="358">加藤</text><text class="l" x="768" y="363.500">産業</text><text class="l" x="840" y="364">石垣/</text><text class="l" x="840" y="370.500">石垣メンテナンス</text><text class="l" x="972" y="367">日本ヒューム</text><text class="l" x="1082" y="356">丸栄コンクリート工業/</text><text class="l" x="1082" y="363">日本コンクリート工業</text><text class="l" x="1089" y="379">TOZEN</text><text class="l" x="1116" y="379">GAIUS</text>
<text class="l" x="606" y="439">休憩所</text><text class="l" x="651.500" y="436">大阪アクア</text><text class="l" x="651.500" y="442.500">システム</text><text class="l" x="606" y="463.500">NEC</text><text class="l" x="606" y="470">プラットフォームズ</text><text class="l" x="651.500" y="468">フジワラ産業</text><text class="l" x="714" y="443">大日本プラスチックス/</text><text class="l" x="714" y="449.500">タキロン/</text><text class="l" x="714" y="456">タキロンエンジニアリング</text><text class="l" x="822" y="449">積水化学工業</text><text class="l" x="999" y="449">日之出水道機器</text><text class="l" x="1115" y="439">休憩所</text>
<text class="l" x="606" y="512">巴工業</text><text class="l" x="660" y="498">JFE</text><text class="l" x="660" y="505">アドバンテック</text><text class="l" x="660" y="520">ジェイテクト</text><text class="l" x="750" y="503">西武ポリマ化成</text><text class="l" x="750" y="521">未来樹脂</text><text class="l" x="858" y="516">プラスチック・</text><text class="l" x="858" y="523">マンホール協会</text><text class="l" x="954" y="505" style="font-size:5px">中川ヒューム管工業/</text><text class="l" x="954" y="511" style="font-size:5px">奥田アドホール工業会/</text><text class="l" x="954" y="517" style="font-size:5px">全国GSパイプ工業会</text><text class="l" x="1017" y="505">グラウンド</text><text class="l" x="1017" y="511.500">デザイン</text><text class="l" x="1017" y="518">研究会</text><text class="l" x="1098" y="507">日本</text><text class="l" x="1098" y="514">工業</text>
<text class="l" x="1109" y="508" style="font-size:5px;text-anchor:start">カナフレックスコーポレーション/</text><text class="l" x="1109" y="514.500" style="font-size:5px;text-anchor:start">カナフレックス工法協会</text>
<text class="l" x="606" y="578">日立製作所</text><text class="l" x="660" y="578">日立造船</text><text class="l" x="750" y="569">住化</text><text class="l" x="750" y="587">高部化成</text><text class="l" x="813" y="578">三山工業</text><text class="l" x="858" y="578">前澤化成工業</text><text class="l" x="945" y="568">全国</text><text class="l" x="945" y="574">ヒューム管協会</text><text class="l" x="945" y="587">栗本鐵工所</text><text class="l" x="998" y="569">エバタ</text><text class="l" x="1053" y="567">日本レジン</text><text class="l" x="1053" y="573.500">製品協会</text><text class="l" x="1053" y="587">日本鋳鉄管</text><text class="l" x="1125" y="569">シビルソフト開発</text><text class="l" x="1125" y="584">日本工営/</text><text class="l" x="1125" y="590.500">工営総合コンサルタント</text>
<text class="l" x="597" y="625">アムコン</text><text class="l" x="660" y="632">三菱長崎機工</text><text class="l" x="840" y="632">アロン化成</text><text class="l" x="972" y="628">ゼニス羽田/</text><text class="l" x="972" y="635">全国ユニホール工業会</text><text class="l" x="1053" y="623">大成機工</text><text class="l" x="1053" y="638">ベイホール</text><text class="l" x="1053" y="644.500">工業会</text><text class="l" x="1104" y="663">日本タップ</text>
<g class="n"><text x="580.200" y="238">2-354</text><text x="616" y="250">2-353</text><text x="634.300" y="250">2-352</text><text x="580.200" y="255.500">2-346</text><text x="616" y="255.500">2-347</text><text x="670.100" y="238">2-351</text><text x="724.500" y="238">2-350</text><text x="670.100" y="255.500">2-348</text><text x="796.300" y="238">2-349</text><text x="928" y="238">2-452</text><text x="1000.200" y="267">2-451</text><text x="1035.700" y="238">2-453</text><text x="1072.300" y="238">2-449</text><text x="1035.700" y="256">2-445</text><text x="1072.300" y="256">2-444</text><text x="1107.500" y="256">2-443</text><text x="1126" y="250">2-447</text><text x="1144" y="256">2-442</text>
<text x="580.200" y="292">2-345</text><text x="616" y="292">2-343</text><text x="616" y="310">2-344</text><text x="670.100" y="292">2-342</text><text x="706.400" y="292">2-339</text><text x="742.300" y="292">2-337</text><text x="706.400" y="310">2-341</text><text x="742.300" y="310">2-340</text><text x="796.300" y="292">2-336</text><text x="928" y="292">2-434</text><text x="1000.200" y="304">2-435</text><text x="928" y="310">2-432</text><text x="982" y="310">2-433</text><text x="1035.700" y="292">2-436</text><text x="1053.800" y="292">2-437</text><text x="1108.200" y="292">2-440</text><text x="1108.200" y="310">2-438</text><text x="1144" y="310">2-439</text>
<text x="580.200" y="352">2-331</text><text x="670.100" y="352">2-332</text><text x="760" y="352">2-333</text><text x="760" y="370">2-334</text><text x="796.300" y="352">2-335</text><text x="928" y="352">2-407</text><text x="1035.700" y="352">2-428</text><text x="1035.700" y="370">2-423</text><text x="1072.300" y="370">2-424</text><text x="1108" y="370">2-425</text><text x="1126" y="370">2-426</text><text x="1126" y="363">2-427</text>
<text x="634.300" y="424">2-328</text><text x="580.200" y="460">2-330</text><text x="634.300" y="460">2-329</text><text x="688.600" y="424">2-327</text><text x="760" y="424">2-326</text><text x="928" y="424">2-402</text><text x="1089.700" y="460">2-401</text>
<text x="580.200" y="496">2-316</text><text x="634.300" y="496">2-317</text><text x="634.300" y="514">2-318</text><text x="706.400" y="496">2-319</text><text x="724.500" y="496">2-320</text><text x="724.500" y="514">2-321</text><text x="796.300" y="496">2-322</text><text x="832.200" y="496">2-325</text><text x="796.300" y="514">2-323</text><text x="832.200" y="514">2-324</text><text x="928" y="496">2-413</text><text x="1000.200" y="496">2-414</text><text x="1036" y="496">2-417</text><text x="1089.700" y="496">2-418</text><text x="1108.200" y="496">2-419</text>
<text x="580.200" y="562">2-315</text><text x="634.300" y="562">2-314</text><text x="706.400" y="592">2-313</text><text x="724.500" y="562">2-371</text><text x="724.500" y="580">2-372</text><text x="796.300" y="562">2-370</text><text x="832.200" y="562">2-369</text><text x="928" y="562">2-414</text><text x="982" y="562">2-412</text><text x="964.300" y="574">2-411</text><text x="928" y="580">2-408</text><text x="964.300" y="580">2-409</text><text x="1035.700" y="562">2-410</text><text x="1035.700" y="580">2-407</text><text x="1089.700" y="562">2-406</text><text x="1089.700" y="580">2-405</text>
<text x="580.200" y="615.500">2-301</text><text x="634.300" y="615.500">2-302</text><text x="706.400" y="615.500">2-303</text><text x="742.300" y="615.500">2-304</text><text x="706.400" y="633.500">2-305</text><text x="741.500" y="633.500">2-306</text><text x="760" y="633.500">2-307</text><text x="796.300" y="615.500">2-308</text><text x="928" y="615.500">2-407</text><text x="1035.700" y="615.500">2-405</text><text x="1035.700" y="633.500">2-402</text><text x="1089.700" y="615.500">2-404</text><text x="1089.700" y="653.500">2-403</text></g>
<text class="l" x="1215" y="183">都市技術</text><text class="l" x="1215" y="189.500">センター</text><text class="l" x="1418.500" y="182">日本推進</text><text class="l" x="1418.500" y="188">技術協会</text>
<text class="l" x="1250.500" y="248">プラザ</text><text class="l" x="1240" y="264">小松建機産業</text><text class="l" x="1295" y="251">MER</text><text class="l" x="1295" y="258">協会</text><text class="l" x="1349" y="244">ライト</text><text class="l" x="1349" y="250">工業</text><text class="l" x="1515" y="262">ケコム協会/</text><text class="l" x="1515" y="268">コプラス</text><text class="l" x="1544.500" y="261">アイアン</text><text class="l" x="1544.500" y="267.500">モール協会</text>
<text class="l" x="1214.500" y="299">スリーエム</text><text class="l" x="1214.500" y="304">ジャパン</text><text class="l" x="1232.800" y="317">キュー・アイ</text><text class="l" x="1304" y="318">リクナックス</text><text class="l" x="1340" y="317">アスコ</text><text class="l" x="1340" y="300">EPR工法協会</text><text class="l" x="1389" y="305">アンクルモール協会/</text><text class="l" x="1389" y="311">イセキ開発工機</text><text class="l" x="1431" y="301">エースモール工法協会/</text><text class="l" x="1431" y="307">アイレック技建/</text><text class="l" x="1431" y="314">第一機械日本</text><text class="l" x="1508" y="305">ジオリード</text><text class="l" x="1508" y="312">協会</text><text class="l" x="1544.500" y="299">ツーウェイ</text><text class="l" x="1544.500" y="305">推進工法協会</text><text class="l" x="1589" y="306">森</text><text class="l" x="1589" y="312">づくり</text>
<text class="l" x="1232.800" y="367">管清工業</text><text class="l" x="1304.500" y="375">日本ステップ</text><text class="l" x="1304.500" y="381">ロック協会</text><text class="l" x="1421.500" y="367">東亜グラウト工業</text><text class="l" x="1508.400" y="365">オールライナー</text><text class="l" x="1508.400" y="371">協会</text><text class="l" x="1544.500" y="365">クリアフロー</text><text class="l" x="1544.500" y="371">工法協会</text><text class="l" x="1598.500" y="359">推研計画</text><text class="l" x="1589" y="375">ガス</text><text class="l" x="1589" y="381">テック</text><text class="l" x="1607.500" y="375">セン</text><text class="l" x="1607.500" y="381">コム</text>
<text class="l" x="1232.800" y="449">東京都下水道サービス</text><text class="l" x="1304.500" y="436">全国エポ</text><text class="l" x="1304.500" y="442.500">工法協会</text><text class="l" x="1349.500" y="436">エフアールピー</text><text class="l" x="1349.500" y="442.500">サポートサービス</text><text class="l" x="1313" y="466">下水道管路更生</text><text class="l" x="1313" y="472">新規技術協会</text><text class="l" x="1358" y="468">FFT工法協会</text>
<text class="l" x="1399" y="436" style="text-anchor:start;font-size:4.800px">ヤスダエンジニアリング/</text><text class="l" x="1399" y="442.500" style="text-anchor:start;font-size:4.800px">機動建設工業/</text><text class="l" x="1399" y="449" style="text-anchor:start;font-size:4.800px">アルティミット工法協会/</text><text class="l" x="1399" y="455" style="text-anchor:start;font-size:4.800px">ジャット工法協会/</text><text class="l" x="1399" y="461.500" style="text-anchor:start;font-size:4.800px">アパッチ工法協会/</text><text class="l" x="1399" y="467.500" style="text-anchor:start;font-size:4.800px">SリングMモール協会</text>
<text class="l" x="1526.400" y="449">日本SPR工法協会</text><text class="l" x="1616.500" y="431">日本下水道協会</text><text class="l" x="1589" y="463">長藻</text><text class="l" x="1589" y="470">産業</text>
<text class="l" x="1250.800" y="503">カンツール</text><text class="l" x="1259" y="522">日本ステップ工業</text><text class="l" x="1287" y="519">ツインドリル</text><text class="l" x="1287" y="525">工法協会</text><text class="l" x="1349.700" y="502">セイフティーリフラット</text><text class="l" x="1349.700" y="508">工法協会</text><text class="l" x="1430" y="508">日本合成樹脂</text><text class="l" x="1430" y="514.500">製作所</text><text class="l" x="1517.500" y="510">パリテム技術協会/</text><text class="l" x="1517.500" y="516.500">昇降工業</text><text class="l" x="1553.500" y="502">大阪</text><text class="l" x="1553.500" y="507.500">工業</text><text class="l" x="1598.400" y="504">新コスモス電機</text><text class="l" x="1634.500" y="509">日本下水道</text><text class="l" x="1634.500" y="515.500">新技術機構</text>
<text class="l" x="1223" y="587">フォーラムエイト</text><text class="l" x="1269" y="569">住吉製作所</text><text class="l" x="1268.500" y="587">パスコ</text><text class="l" x="1304" y="569">ASS工法協会</text><text class="l" x="1304" y="584">ベビーモール</text><text class="l" x="1304" y="590.500">協会</text><text class="l" x="1358" y="577">管材</text><text class="l" x="1526.400" y="577">EX・ダンビー協会</text><text class="l" x="1616.400" y="573" style="font-size:5px">国土交通省 国土技術政策総合研究所</text><text class="l" x="1616.400" y="579.500" style="font-size:5px">(B-DASHプロジェクト)/国土交通省</text>
<text class="l" x="1223.500" y="637">タカ</text><text class="l" x="1223.500" y="643.500">ラ</text><text class="l" x="1268.500" y="622">管路構立坑</text><text class="l" x="1268.500" y="628">システム研究会</text><text class="l" x="1268.500" y="638">SDライナー</text><text class="l" x="1268.500" y="644">工法協会</text><text class="l" x="1358" y="628">DO-Jet工法</text><text class="l" x="1358" y="634.500">研究会</text><text class="l" x="1422" y="632">ラムサス工法協会</text><text class="l" x="1508" y="623">清水建設</text><text class="l" x="1544.500" y="621">オープン</text><text class="l" x="1544.500" y="627">シールド協会</text><text class="l" x="1517" y="641">鹿島建設</text><text class="l" x="1553.500" y="640">戸田</text><text class="l" x="1553.500" y="646">建設</text><text class="l" x="1616.400" y="628">特別企画</text><text class="l" x="1616.400" y="636">【水素社会と下水道】</text>
<g class="n"><text x="1197.800" y="177.500">1-569</text><text x="1233.800" y="177.500">1-570</text><text x="1286" y="177.500">1-571</text><text x="1318" y="177.500">1-572</text><text x="1355" y="177.500">1-573</text><text x="1382" y="177.500">1-574</text><text x="1491.400" y="177.500">1-636</text><text x="1581.200" y="202">1-635</text><text x="1581.200" y="238">1-634</text><text x="1581.200" y="256">1-629</text>
<text x="1197.400" y="238">1-558</text><text x="1197.400" y="250">1-546</text><text x="1215.600" y="250">1-556</text><text x="1233.800" y="238">1-547</text><text x="1197.400" y="256">1-557</text><text x="1215.600" y="256">1-548</text><text x="1287.200" y="238">1-566</text><text x="1305.800" y="238">1-555</text><text x="1341.400" y="238">1-554</text><text x="1305.800" y="256">1-559</text><text x="1377.400" y="238">1-563</text><text x="1413.800" y="238">1-562</text><text x="1377.400" y="256">1-560</text><text x="1413.800" y="256">1-561</text><text x="1491.400" y="238">1-632</text><text x="1527.400" y="238">1-633</text><text x="1491.400" y="256">1-631</text><text x="1527.400" y="256">1-630</text>
<text x="1197.400" y="292">1-550</text><text x="1233.800" y="304">1-555</text><text x="1251.600" y="304">1-554</text><text x="1197.400" y="310">1-547</text><text x="1287.200" y="292">1-553</text><text x="1323.600" y="292">1-552</text><text x="1287.200" y="310">1-548</text><text x="1323.600" y="310">1-549</text><text x="1377.400" y="292">1-551</text><text x="1413.800" y="292">1-550</text><text x="1491.400" y="292">1-628</text><text x="1527.400" y="292">1-627</text><text x="1527.400" y="310">1-625</text><text x="1545.600" y="310">1-626</text><text x="1581.200" y="292">1-628</text>
<text x="1197.400" y="352">1-540</text><text x="1287.200" y="352">1-544</text><text x="1305.800" y="352">1-545</text><text x="1287.200" y="370">1-541</text><text x="1323.600" y="370">1-542</text><text x="1377.400" y="352">1-544</text><text x="1395.600" y="352">1-543</text><text x="1491.400" y="352">1-623</text><text x="1527.400" y="352">1-622</text><text x="1581.200" y="352">1-621</text><text x="1581.200" y="370">1-620</text><text x="1599.400" y="370">1-619</text>
<text x="1197.400" y="424">1-534</text><text x="1287.200" y="424">1-539</text><text x="1323.600" y="424">1-538</text><text x="1287.200" y="460">1-535</text><text x="1341.400" y="460">1-536</text><text x="1395.600" y="424">1-537</text><text x="1491.400" y="424">1-614</text><text x="1581.200" y="424">1-618</text><text x="1581.200" y="442">1-616</text><text x="1599.400" y="442">1-617</text><text x="1581.200" y="460">1-615</text>
<text x="1197.400" y="496">1-533</text><text x="1197.400" y="514">1-525</text><text x="1215.600" y="514">1-526</text><text x="1269" y="514">1-527</text><text x="1323.600" y="496">1-532</text><text x="1323.600" y="514">1-528</text><text x="1359.600" y="514">1-529</text><text x="1395.600" y="496">1-530</text><text x="1395.600" y="525">1-531</text><text x="1491.400" y="496">1-613</text><text x="1545.600" y="496">1-612</text><text x="1545.600" y="514">1-611</text><text x="1581.200" y="496">1-609</text><text x="1617.600" y="496">1-608</text><text x="1581.200" y="514">1-610</text>
<text x="1197.400" y="562">1-524</text><text x="1251.600" y="562">1-523</text><text x="1287.600" y="562">1-522</text><text x="1197.400" y="580">1-514</text><text x="1251.600" y="580">1-515</text><text x="1287.600" y="580">1-516</text><text x="1331" y="562">1-517</text><text x="1377" y="574">1-521</text><text x="1395.600" y="574">1-520</text><text x="1395.600" y="580">1-518</text><text x="1413.800" y="562">1-519</text><text x="1491.400" y="562">1-606</text><text x="1581.200" y="562">1-607</text>
<text x="1197.400" y="628">1-533</text><text x="1197.400" y="633.500">1-501</text><text x="1215.600" y="633.500">1-502</text><text x="1233.800" y="633.500">1-503</text><text x="1251.600" y="615.500">1-510</text><text x="1287.600" y="615.500">1-509</text><text x="1251.600" y="633.500">1-505</text><text x="1334" y="615.500">1-504</text><text x="1377.400" y="615.500">1-507</text><text x="1395.600" y="615.500">1-508</text><text x="1491.400" y="615.500">1-605</text><text x="1527.400" y="615.500">1-604</text><text x="1491.400" y="633.500">1-601</text><text x="1545.600" y="633.500">1-602</text><text x="1581.200" y="615.500">1-603</text></g>
</g>

<g id="connectors">
<path class="ld" d="M531.600 251V225H523"/><path class="ld" d="M531.600 364.700V395H540"/><path class="ld" d="M84.400 455V482.700H93.500"/><path class="ld" d="M66.600 550.700H84.500V542.300H93"/><path class="ld" d="M138.400 290V314H148"/>
<path class="ld" d="M149.800 679.300V655.700H129.500"/><path class="ld" d="M201.600 679V656H217"/><path class="ld" d="M652.100 676.700V656H642"/><path class="ld" d="M1517.500 679.300H1571.300V655.700H1582"/>
<path class="ld" d="M795.700 182V155.500H785"/><path class="ld" d="M822.300 182V197H813"/><path class="ld" d="M936 182V197.700H926"/><path class="ld" d="M954 182V197.700H963"/><path class="ld" d="M1079.800 182V152H1067.600"/><path class="ld" d="M1160.700 182V208.300H1132"/><path class="ld" d="M1161 260H1169.700V216H1150"/>
<path class="ld" d="M624.400 242V227.700H615"/><path class="ld" d="M642.100 242V227.700H650"/><path class="ld" d="M750.200 251V227.700H758"/><path class="ld" d="M1008 251V227.700H999"/><path class="ld" d="M1134 242V227.700H1125"/><path class="ld" d="M1052.800 260V276H1044"/><path class="ld" d="M1116 260V274H1096"/><path class="ld" d="M1143 260H1161"/>
<path class="ld" d="M732.300 296V282H741"/><path class="ld" d="M1008 296V282H981"/><path class="ld" d="M999 314V328H990"/><path class="ld" d="M1044 305V335.700H1034"/><path class="ld" d="M1125 314V329H1112"/><path class="ld" d="M1152 296V282H1140"/><path class="ld" d="M1152 314V322"/><path class="ld" d="M768 374V389.300H777"/>
<path class="ld" d="M1052.800 374V389.300H1062"/><path class="ld" d="M1134 374V400H1125"/><path class="ld" d="M1134 355.700V341H1125"/><path class="ld" d="M1152 355.700V341H1161"/><path class="ld" d="M1152 374V400H1161"/><path class="ld" d="M1116 464V482.700H1125"/><path class="ld" d="M1152 455V413.700H1161"/>
<path class="ld" d="M714.300 509V536.700H723.500"/><path class="ld" d="M822.300 500V485.700H812"/><path class="ld" d="M858 500V485.700H867"/><path class="ld" d="M813 517.700V536.700H822"/><path class="ld" d="M1053 509V536.700H1045"/>
<path class="ld" d="M714.300 575V551H705.400"/><path class="ld" d="M972 566V551.700H981"/><path class="ld" d="M990 584V602.300H981"/><path class="ld" d="M1223.500 566V551H1219"/>
<path class="ld" d="M723.300 619.300V605.700H713"/><path class="ld" d="M759 619.300V605.700H768"/><path class="ld" d="M723.300 637.700V652.700H713"/><path class="ld" d="M750.200 637.700V658.300H741"/><path class="ld" d="M768 637.700V658.300H777"/><path class="ld" d="M1125 619.300H1079V655H1068"/>
<path class="ld" d="M825.300 687.700V733H832"/><path class="ld" d="M1297.400 677.700V689H1305"/>
<path class="ld" d="M1261 182V197.700H1240.600"/><path class="ld" d="M1310.500 182V206.700H1301"/><path class="ld" d="M1346.500 182V206.700H1356"/><path class="ld" d="M1382.700 182V197.700H1392"/><path class="ld" d="M1526.400 182V158H1535"/>
<path class="ld" d="M1206 242H1182V214.300H1187"/><path class="ld" d="M1223.500 242V224.700H1219"/><path class="ld" d="M1201.200 260V276H1192"/><path class="ld" d="M1322.600 242V224.700H1313"/><path class="ld" d="M1331.500 260V215.700H1322"/><path class="ld" d="M1394.600 242V224.700H1385"/><path class="ld" d="M1430.800 242V227.700H1436.500"/><path class="ld" d="M1394.600 260V276H1385"/><path class="ld" d="M1430.800 260V276H1439.500"/><path class="ld" d="M1508.400 242V217H1508"/><path class="ld" d="M1544.600 242V208.700H1535"/><path class="ld" d="M1589.500 206.700H1580"/><path class="ld" d="M1583 242V260"/><path class="ld" d="M1589.500 260V281.700H1582"/>
<path class="ld" d="M1241.600 296V282H1232"/><path class="ld" d="M1259.800 296V276H1250"/><path class="ld" d="M1304.800 296V282H1314"/><path class="ld" d="M1535.300 314V332.700H1526"/><path class="ld" d="M1553.500 314V332.700H1562"/>
<path class="ld" d="M1295.500 355.700V338.300H1285.500"/><path class="ld" d="M1331.500 355.700V338.300H1340.800"/><path class="ld" d="M1340.500 374V389.300H1332"/><path class="ld" d="M1385.300 364.700V396.300H1395"/><path class="ld" d="M1643.500 455V400.300H1633.700"/><path class="ld" d="M1589.500 446H1574V482.700H1565"/><path class="ld" d="M1679.300 374.300V347.700H1656"/>
<path class="ld" d="M1205.700 517.700V533.300H1196.400"/><path class="ld" d="M1340.500 517.700V533.300H1332"/><path class="ld" d="M1367.500 517.700V533.300H1376.400"/><path class="ld" d="M1403.900 509V485.700H1412.800"/><path class="ld" d="M1553.500 517.700V542.300H1562.800"/><path class="ld" d="M1598.500 517.700V533.300H1607.300"/>
<path class="ld" d="M1385.700 566V551.700H1376.400"/><path class="ld" d="M1403.900 566V551.700H1412.800"/><path class="ld" d="M1403.900 584V605.700H1412.800"/><path class="ld" d="M1430.800 575V599.300H1439.500"/>
<path class="ld" d="M1205.700 619.300V605.700H1196.400"/><path class="ld" d="M1223.500 619.300V597H1213"/><path class="ld" d="M1241.600 619.300V601.700H1250"/><path class="ld" d="M1295.500 619.300V601.700H1304"/><path class="ld" d="M1205.700 637.700V661.700H1230"/><path class="ld" d="M1241.600 637.700V653.300H1250"/><path class="ld" d="M1304.800 637.700V653.300H1313"/><path class="ld" d="M1385.300 629V654H1393.500"/>
</g>

<g id="connector-labels" class="c">
<text class="c" x="463" y="223.500">福岡アドバンスドテクノ/</text><text class="c" x="463" y="229.500">福岡製作所</text>
<text class="c" x="540" y="394">三菱化工機/</text><text class="c" x="540" y="400">化工機プラント・環境エンジ</text>
<text class="c" x="93.500" y="484.500">SEEPEX Japan</text><text class="c" x="93" y="544">エヌケーエス</text><text class="c" x="148" y="313.500">埼玉県下水道局/</text><text class="c" x="148" y="319.500">埼玉県下水道公社</text>
<text class="c" x="88" y="658">出展者表彰投票所</text><text class="c" x="217" y="654.500">ミーティング</text><text class="c" x="217" y="662">スペース</text><text class="c" x="611" y="654.500">ミーティング</text><text class="c" x="611" y="662">スペース</text><text class="c" x="1583.600" y="657.500">出展者表彰投票所</text><text class="c" x="1602" y="676">ミーティング</text><text class="c" x="1605" y="683">スペース</text>
<text class="c e" x="785" y="157.500">栗原鋼/サンリュウ</text><text class="c" x="745" y="199">Leademan &amp; Associates</text><text class="c e" x="926" y="199">ワールドケミカル</text><text class="c" x="963" y="199">ACR 並川事業所</text>
<text class="c" x="993.200" y="149">管路情報活用有限責任事業組合/</text><text class="c" x="993.200" y="155">調査・情報処理技術普及協会/</text><text class="c" x="993.200" y="161">維持技術開発研究協会</text>
<text class="c e" x="1132" y="210">サピエナント/環境技術サービス</text><text class="c" x="1088.700" y="218">クリスタルライニング工法協会</text>
<text class="c e" x="615" y="229.500">リプロントーワ</text><text class="c" x="650" y="229.500">日本リモナイト</text><text class="c" x="758" y="229.500">極東ソリューションサービス/極東機機</text><text class="c e" x="999" y="229.500">レコサール工業会</text><text class="c e" x="1125" y="229.500">ハネウェルジャパン</text>
<text class="c e" x="1044" y="278">スレンダーホール工業会</text><text class="c" x="1057" y="275">日本下水道管路</text><text class="c" x="1057" y="281">更生モルタル協会</text><text class="c" x="741" y="284">島津製作所</text><text class="c e" x="981" y="284">ユーシー産業</text><text class="c e" x="1140" y="284">洋型推進工法協会</text>
<text class="c e" x="1034" y="337.500">全国コネクトホール工業会</text><text class="c e" x="990" y="330">月とうボックスカルバート協会</text><text class="c e" x="1112" y="331">イトーヨーギョー</text><text class="c" x="777" y="391">スエヒロシステム</text><text class="c" x="1062" y="391">三井金属エンジニアリング</text>
<text class="c" x="999" y="400">昭和電工株式会社/昭和電工建材/</text><text class="c" x="999" y="406">東日本ショウセット工業会/西日本ショウセット工業会</text><text class="c e" x="1125" y="343">和田設計事務所</text><text class="c" x="1161" y="343">エーディーワイ</text><text class="c" x="1161" y="402">日本水浄技術開発協会</text><text class="c" x="1125" y="484.500">エヌ・ティ・ティ ネオメイト</text><text class="c" x="1161" y="415.500">東京ガスエンジニアリングソリューションズ</text>
<text class="c" x="723.500" y="538.500">強化プラスチック複合管協会</text><text class="c e" x="812" y="487.500">積水化成品工業</text><text class="c" x="867" y="487.500">強化ビニル管・継手協会</text><text class="c" x="822" y="538.500">下水道用ポリエチレン管・継手協会</text><text class="c e" x="1045" y="538.500">次世代型高品位グラウンドマンホール推進協会</text>
<text class="c e" x="705" y="553">フレックスシステム</text><text class="c" x="981" y="553.500">エバリート工法工業会</text><text class="c e" x="981" y="604">ハイガードパイプ協会/東本コンクリート工業</text><text class="c e" x="1220" y="553">ワイエスアイ/チック/セントラル科学</text>
<text class="c e" x="713" y="607.500">日本ダクタイル鉄管協会</text><text class="c" x="768" y="607.500">全国プレホール工業会</text><text class="c e" x="713" y="654.500">全国㈱ジョイント管協会</text><text class="c e" x="741" y="660">マンホール浮上防止対策協議会</text><text class="c" x="777" y="660">日本ラダホール工業会</text><text class="c" x="940" y="655">中央設計技術研究所/リサーチ アンド ソリューション/</text><text class="c" x="940" y="661">オリエンタルコンサルタンツ</text>
<text class="c e" x="1240.600" y="199.500">日本下水道光ファイバー技術協会</text><text class="c e" x="1301" y="208.500">日本下水道管路管理業協会</text><text class="c" x="1356" y="208.500">日本下水道施設管理業協会</text><text class="c" x="1392" y="199.500">全国上下水道コンサルタント協会</text><text class="c" x="1535" y="160">積水ディーケーケー/バイオニクス機器</text>
<text class="c" x="1187" y="216">新成ＳＳＣ工法協会</text><text class="c" x="1187" y="226.500">ビーエスエル</text><text class="c e" x="1192" y="278">スウェール協会</text><text class="c e" x="1313" y="226.500">ハットリング工法協会</text><text class="c e" x="1322" y="217.500">福岡総/デュアルシールド工法協会</text><text class="c" x="1339" y="223">ユニコーン推ビ/</text><text class="c" x="1339" y="229.500">泥水推進工法研究会</text><text class="c" x="1436.500" y="229.500">ラサ工業/ユニコーン協会</text><text class="c e" x="1508" y="219">ヒューム管&amp;ベルスタ推進工法協会</text><text class="c e" x="1385" y="278">エルデック/全国非開削普及協議会/スピーダー協会</text><text class="c" x="1439.500" y="278">全管水工法協会/三興建設</text><text class="c e" x="1535" y="210.500">ハイブリターン工法協会</text><text class="c e" x="1578" y="209">ソニック</text><text class="c" x="1536" y="278">日科機/バイオス/</text><text class="c" x="1536" y="284">水本機械製作所</text>
<text class="c e" x="1232" y="284">前田メンテナンス</text><text class="c e" x="1250" y="278">テクコーエ工法協会</text><text class="c" x="1314" y="284">二宮/東邦ガステクノ</text><text class="c" x="1480" y="331">東邦地下工機/</text><text class="c" x="1480" y="337">オーケーモール協会</text><text class="c" x="1562" y="334.500">エコスピードシールド工法協会</text>
<text class="c e" x="1285.500" y="340">谷沢製作所</text><text class="c" x="1340.800" y="340">ヤマソウ/長寿機管調査研究会/WinCan Japan</text><text class="c e" x="1332" y="391">FRP内面補修工法協会/エスジーシー下水道センター</text><text class="c" x="1395" y="398">光硬化工法協会</text><text class="c" x="1528" y="394.500">水・環境ソリューションハブ(WES Hub)/</text><text class="c" x="1528" y="400.500">水・環境ソリューションハブAAA登録団体/</text><text class="c" x="1528" y="406.500">日本サニテーションコンソーシアム/</text><text class="c" x="1528" y="412.500">国土交通省</text><text class="c e" x="1565" y="484.500">芝浦セムテック</text>
<text class="c e" x="1196.400" y="535">二幸創建工業</text><text class="c e" x="1332" y="535">日本インシチュフォーム協会</text><text class="c" x="1376.400" y="535">日本管渠更生工法品質確保協会</text><text class="c" x="1412.800" y="487.500">ＳＳＩＣＰ技術協会</text><text class="c" x="1562.800" y="544">化学研究評価機構 高分子試験・評価センター</text><text class="c" x="1607.300" y="535">国土交通省 国土技術政策総合研究所/土木研究所</text>
<text class="c e" x="1376.400" y="553.500">ベル工法協会</text><text class="c" x="1412.800" y="553.500">日本海洋素材</text><text class="c" x="1414" y="607.500">レネ協会/環境組</text><text class="c" x="1439.500" y="601">ミニシールド工法研究会/三分割管工業会</text>
<text class="c e" x="1196.400" y="607.500">アルファシビルエンジニアリング</text><text class="c e" x="1213" y="599">パワーブレンダー工法協会</text><text class="c" x="1251" y="600.500">アーバンリング</text><text class="c" x="1251" y="606.500">工法研究会</text><text class="c" x="1305" y="600.500">エンビ・ネリソン推進協会/</text><text class="c" x="1305" y="606.500">アート工法協会/パイプキュア工法研究会</text><text class="c" x="1230" y="663.500">コスミック工法協会</text><text class="c" x="1250" y="655">TM工法協会</text><text class="c" x="1313" y="655">FIT&amp;DRM協会/成都油機</text><text class="c" x="1393.500" y="656">アースナビ推進工法協会/ジェイアール総研情報システム</text>
</g>

<g id="callout">
<path d="M238.600 533L267.500 681" fill="none" stroke="#BE3A2B" stroke-width="2.400"/>
<rect x="147.400" y="490.500" width="91.700" height="38.500" rx="3" fill="none" stroke="#BE3A2B" stroke-width="7.600"/>
<rect x="191.300" y="681" width="260" height="107.700" fill="#fff" stroke="#BE3A2B" stroke-width="2.600"/>
<text x="321" y="723" text-anchor="middle" style="font-size:30px;font-weight:300;fill:#222">ブース No.3-104</text>
<text x="318" y="768" text-anchor="middle" style="font-size:30.500px;font-weight:300;fill:#222">株式会社フソウ</text>
</g>
</svg>
